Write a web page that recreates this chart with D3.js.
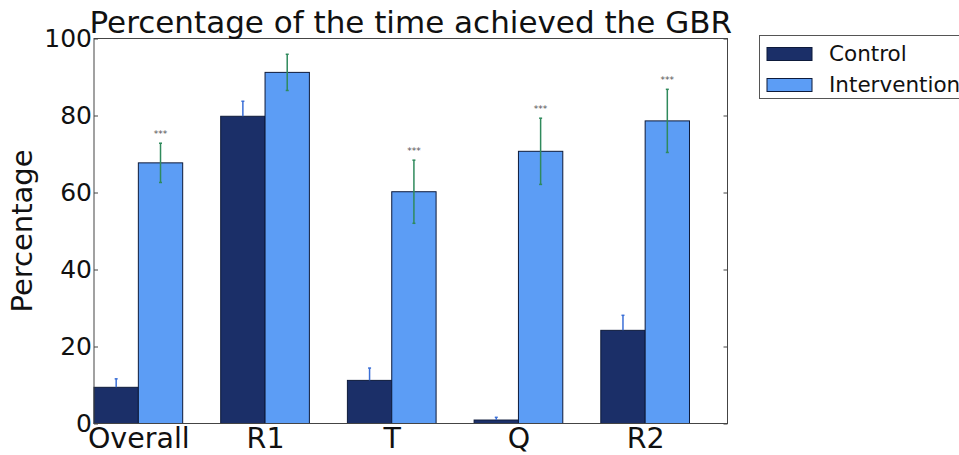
<!DOCTYPE html>
<html>
<head>
<meta charset="utf-8">
<script src="https://cdn.jsdelivr.net/npm/d3@7"></script>
<style>
  html, body { margin: 0; padding: 0; background: #fff; }
  svg { display: block; }
  text { font-family: "DejaVu Sans", sans-serif; fill: #111; }
</style>
</head>
<body>
<svg id="chart" width="959" height="455"></svg>
<script>
// Share of time each group reached the GBR, by phase
const categories = ["Overall", "R1", "T", "Q", "R2"];
const seriesNames = ["Control", "Intervention"];
const controlValues = [9.4, 79.8, 11.2, 0.9, 24.2];
const controlErrors = [2.2, 3.9, 3.2, 0.7, 3.9];
const interventionValues = [67.7, 91.2, 60.2, 70.7, 78.6];
const interventionErrors = [5.1, 4.7, 8.2, 8.6, 8.2];
const significance = ["***", "", "***", "***", "***"];
const yTicks = [0, 20, 40, 60, 80, 100];

const colors = { Control: "#1b2f68", Intervention: "#5c9df5" };
const errColors = { Control: "#3b6fd6", Intervention: "#2f8a5c" };

const svg = d3.select("#chart");
const plot = { left: 94, right: 727.5, top: 38.5, bottom: 423.5 };
const barWidth = 0.35;

const x = d3.scaleLinear().domain([0, categories.length]).range([plot.left, plot.right]);
const y = d3.scaleLinear().domain([0, 100]).range([plot.bottom, plot.top]);

// Bars: control at i, intervention at i + width
const series = [
  { name: "Control", values: controlValues, errors: controlErrors, offset: 0 },
  { name: "Intervention", values: interventionValues, errors: interventionErrors, offset: barWidth }
];

series.forEach(s => {
  svg.append("g").selectAll("rect")
    .data(s.values)
    .join("rect")
    .attr("x", (d, i) => x(i + s.offset))
    .attr("width", x(barWidth) - x(0))
    .attr("y", d => y(d))
    .attr("height", d => y(0) - y(d))
    .attr("fill", colors[s.name])
    .attr("stroke", "#0d1a3a")
    .attr("stroke-width", 1);
});

// Error bars (control drawn upward only, intervention symmetric)
series.forEach(s => {
  const g = svg.append("g");
  s.values.forEach((v, i) => {
    const cx = x(i + s.offset + barWidth / 2);
    const lo = s.name === "Control" ? v : v - s.errors[i];
    const hi = v + s.errors[i];
    g.append("line")
      .attr("x1", cx).attr("x2", cx)
      .attr("y1", y(lo)).attr("y2", y(hi))
      .attr("stroke", errColors[s.name]).attr("stroke-width", 1.5);
    [hi].concat(s.name === "Control" ? [] : [lo]).forEach(e => {
      g.append("line")
        .attr("x1", cx - 1.5).attr("x2", cx + 1.5)
        .attr("y1", y(e)).attr("y2", y(e))
        .attr("stroke", errColors[s.name]).attr("stroke-width", 1.5);
    });
  });
});

// Significance markers above intervention error bars
svg.append("g").selectAll("text")
  .data(categories)
  .join("text")
  .attr("x", (d, i) => x(i + barWidth + barWidth / 2))
  .attr("y", (d, i) => y(interventionValues[i] + interventionErrors[i]) - 6)
  .attr("text-anchor", "middle")
  .style("font-size", "9px")
  .style("fill", "#555")
  .text((d, i) => significance[i]);

// Frame
svg.append("rect")
  .attr("x", plot.left).attr("y", plot.top)
  .attr("width", plot.right - plot.left).attr("height", plot.bottom - plot.top)
  .attr("fill", "none").attr("stroke", "#444").attr("stroke-width", 1);

// Y axis ticks and labels
const yAxis = d3.axisLeft(y).tickValues(yTicks).tickSize(-4).tickPadding(2).tickFormat(d3.format("d"));
const yg = svg.append("g").attr("transform", `translate(${plot.left},0)`).call(yAxis);
yg.select(".domain").remove();
yg.selectAll(".tick line").attr("stroke", "#444");
yg.selectAll(".tick text").style("font-size", "25px").style("font-family", "DejaVu Sans").attr("fill", "#111");

const yAxisR = d3.axisRight(y).tickValues(yTicks).tickSize(-4).tickFormat("");
const ygr = svg.append("g").attr("transform", `translate(${plot.right},0)`).call(yAxisR);
ygr.select(".domain").remove();
ygr.selectAll(".tick line").attr("stroke", "#444");

// X axis labels centred between each pair of bars
const xAxis = d3.axisBottom(x).tickValues(categories.map((d, i) => i + barWidth))
  .tickSize(0).tickPadding(4).tickFormat((d, i) => categories[i]);
const xg = svg.append("g").attr("transform", `translate(0,${plot.bottom})`).call(xAxis);
xg.select(".domain").remove();
xg.selectAll(".tick text").style("font-size", "28.5px").style("font-family", "DejaVu Sans").attr("fill", "#111");

// Y axis title
svg.append("text")
  .attr("transform", `translate(32,${(plot.top + plot.bottom) / 2}) rotate(-90)`)
  .attr("text-anchor", "middle")
  .style("font-size", "29px")
  .text("Percentage");

// Chart title
svg.append("text")
  .attr("x", (plot.left + plot.right) / 2)
  .attr("y", 33)
  .attr("text-anchor", "middle")
  .style("font-size", "31px")
  .text("Percentage of the time achieved the GBR");

// Legend
const legend = svg.append("g");
legend.append("rect")
  .attr("x", 759.5).attr("y", 35.5).attr("width", 230).attr("height", 63)
  .attr("fill", "#fff").attr("stroke", "#555").attr("stroke-width", 1);
seriesNames.forEach((name, i) => {
  legend.append("rect")
    .attr("x", 767).attr("y", 47.5 + i * 31).attr("width", 45).attr("height", 13)
    .attr("fill", colors[name]).attr("stroke", "#0d1a3a").attr("stroke-width", 1);
  legend.append("text")
    .attr("x", 829).attr("y", 60.5 + i * 31)
    .style("font-size", "21.5px")
    .text(name);
});
</script>
</body>
</html>
